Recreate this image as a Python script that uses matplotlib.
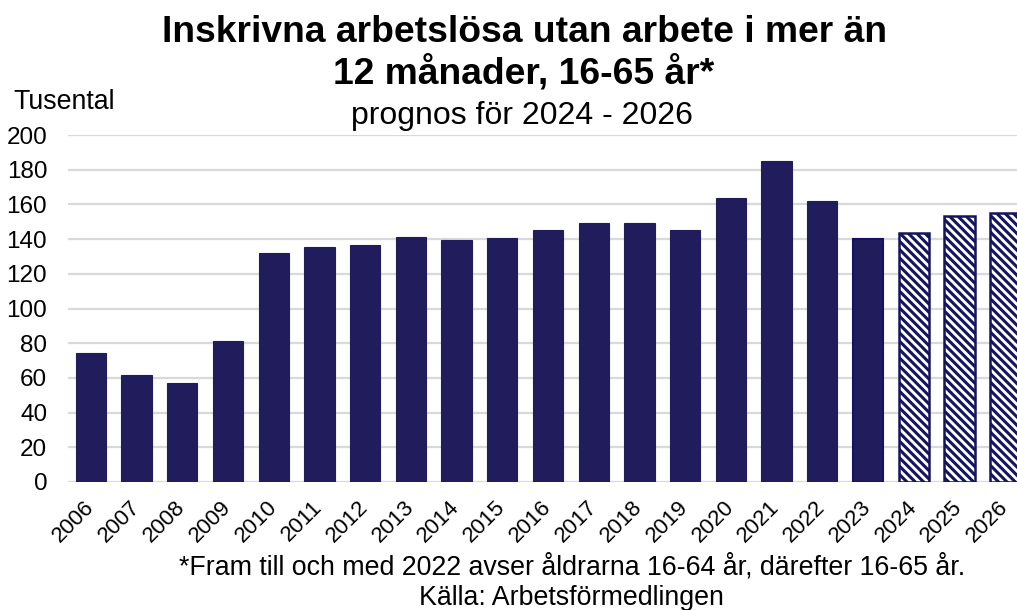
import matplotlib.pyplot as plt
import numpy as np

plt.rcParams['font.family'] = ['Liberation Sans', 'DejaVu Sans']
plt.rcParams['hatch.linewidth'] = 2.2

# data (tusental)
years = [str(y) for y in range(2006, 2027)]
values = [74.4, 61.5, 56.9, 81.1, 132.0, 135.4, 136.6, 141.0, 139.5, 140.7,
          145.2, 149.3, 149.3, 145.2, 163.7, 185.0, 162.0, 140.2,
          143.3, 153.3, 155.2]
forecast_years = ['2024', '2025', '2026']

bar_color = '#211D5C'
hatch_color = '#15155F'
plt.rcParams['hatch.color'] = hatch_color

W, H = 1017, 610
fig = plt.figure(figsize=(W / 100, H / 100), dpi=100)
# axes area in pixels: left 68, right 1028 (clipped), bottom 482, top 135
ax = fig.add_axes([68 / W, 1 - 482 / H, (1028 - 68) / W, (482 - 135) / H])

x = np.arange(len(years))
for i, (yr, v) in enumerate(zip(years, values)):
    if yr in forecast_years:
        ax.bar(i, v, width=0.66, color='white', edgecolor=hatch_color,
               hatch='\\\\\\\\', linewidth=1.8, zorder=3)
    elif yr == '2023':
        ax.bar(i, v, width=0.66, color=bar_color, edgecolor='#12126A',
               linewidth=1.5, zorder=3)
    else:
        ax.bar(i, v, width=0.66, color=bar_color, edgecolor=bar_color,
               linewidth=0.8, zorder=3)

ax.set_xlim(-0.5, len(years) - 0.5)
ax.set_ylim(0, 200)
ax.set_yticks(range(0, 201, 20))
ax.yaxis.grid(True, color='#D9D9D9', linewidth=1.6, zorder=0)
ax.set_axisbelow(True)
for s in ax.spines.values():
    s.set_visible(False)
ax.tick_params(axis='both', length=0)
ax.tick_params(axis='y', labelsize=17.5, pad=15)
ax.set_xticks(x)
ax.set_xticklabels(years, rotation=45, ha='right', va='center', rotation_mode='anchor')
ax.tick_params(axis='x', labelsize=16, pad=16)

fig.text(524 / W, 1 - 33 / H, 'Inskrivna arbetslösa utan arbete i mer än',
         ha='center', va='center', fontsize=26.8, fontweight='bold')
fig.text(524 / W, 1 - 73 / H, '12 månader, 16-65 år*',
         ha='center', va='center', fontsize=26.8, fontweight='bold')
fig.text(522 / W, 1 - 116 / H, 'prognos för 2024 - 2026', ha='center', va='center', fontsize=23)
fig.text(13 / W, 1 - 102 / H, 'Tusental', ha='left', va='center', fontsize=19.3)
fig.text(572 / W, 1 - 567 / H,
         '*Fram till och med 2022 avser åldrarna 16-64 år, därefter 16-65 år.',
         ha='center', va='center', fontsize=19.3)
fig.text(571 / W, 1 - 598 / H, 'Källa: Arbetsförmedlingen', ha='center', va='center', fontsize=19.3)

fig.savefig('out.png', dpi=100)
